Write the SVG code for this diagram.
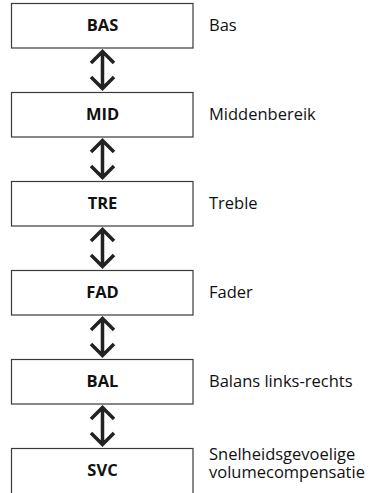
<svg xmlns="http://www.w3.org/2000/svg" width="385" height="493" viewBox="0 0 385 493">
<style>
.box{fill:#fff;stroke:#3a3a3a;stroke-width:1.2}
.code{font-family:"Open Sans","Noto Sans",sans-serif;font-weight:bold;font-size:16.5px;fill:#111;text-anchor:middle}
.lbl{font-family:"Open Sans","Noto Sans",sans-serif;font-size:16.5px;fill:#111}
.arr{fill:none;stroke:#222;stroke-width:3.5;stroke-linecap:butt;stroke-linejoin:miter}
</style>
<rect width="385" height="493" fill="#fff"/>
<g id="connectors">
<path class="arr" d="M102.5 52V88M91 63L102.5 51.5L114 63M91 77L102.5 88.5L114 77"/>
<path class="arr" d="M102.5 141V177M91 152L102.5 140.5L114 152M91 166L102.5 177.5L114 166"/>
<path class="arr" d="M102.5 230V266M91 241L102.5 229.5L114 241M91 255L102.5 266.5L114 255"/>
<path class="arr" d="M102.5 319V355M91 330L102.5 318.5L114 330M91 344L102.5 355.5L114 344"/>
<path class="arr" d="M102.5 408V444M91 419L102.5 407.5L114 419M91 433L102.5 444.5L114 433"/>
</g>
<g id="bas"><rect class="box" x="11.5" y="3.5" width="181.5" height="44.5"/><text class="code" x="102.5" y="31">BAS</text><text class="lbl" x="209" y="31">Bas</text></g>
<g id="mid"><rect class="box" x="11.5" y="92.5" width="181.5" height="44.5"/><text class="code" x="102.5" y="120">MID</text><text class="lbl" x="209" y="120">Middenbereik</text></g>
<g id="tre"><rect class="box" x="11.5" y="181.5" width="181.5" height="44.5"/><text class="code" x="102.5" y="209">TRE</text><text class="lbl" x="209" y="209">Treble</text></g>
<g id="fad"><rect class="box" x="11.5" y="270.5" width="181.5" height="44.5"/><text class="code" x="102.5" y="298">FAD</text><text class="lbl" x="209" y="298">Fader</text></g>
<g id="bal"><rect class="box" x="11.5" y="359.5" width="181.5" height="44.5"/><text class="code" x="102.5" y="387">BAL</text><text class="lbl" x="209" y="387">Balans links-rechts</text></g>
<g id="svc"><rect class="box" x="11.5" y="448.5" width="181.5" height="50"/><text class="code" x="102.5" y="476">SVC</text><text class="lbl" x="209" y="460">Snelheidsgevoelige</text><text class="lbl" x="209" y="478">volumecompensatie</text></g>
</svg>
